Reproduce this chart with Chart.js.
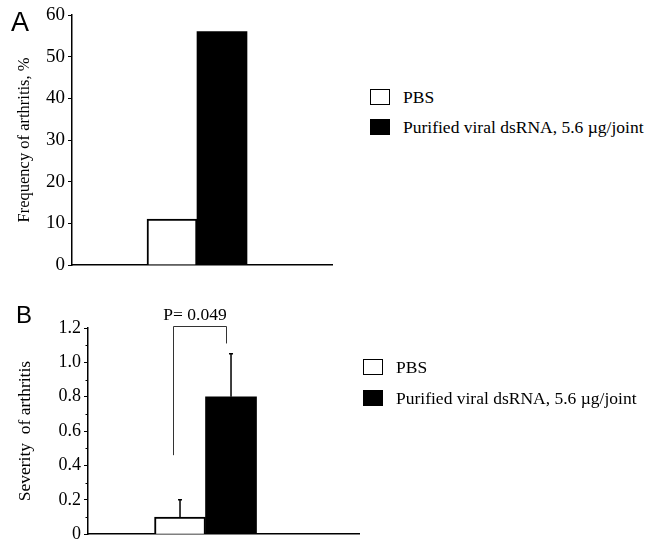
<!DOCTYPE html>
<html>
<head>
<meta charset="utf-8">
<script src="https://cdn.jsdelivr.net/npm/chart.js@4.4.1/dist/chart.umd.min.js"></script>
<style>
  body { margin: 0; background: #fff; width: 649px; height: 548px; position: relative; overflow: hidden; font-family: "Liberation Serif", "Times New Roman", serif; color: #000; }
  .letter { position: absolute; font-family: "Liberation Sans", Arial, sans-serif; line-height: 1; }
  .wrap { position: absolute; left: 0; }
  .legend { position: absolute; font-size: 17.5px; }
  .legend .row { position: absolute; left: 0; height: 20px; display: flex; align-items: center; white-space: nowrap; }
  .legend .swatch { box-sizing: border-box; width: 20px; height: 16px; border: 1.5px solid #000; }
  .legend .txt { position: absolute; left: 33px; line-height: 20px; }
</style>
</head>
<body>
<div class="wrap" style="top:0;"><canvas id="chartA" width="340" height="280"></canvas></div>
<div class="wrap" style="top:290px;"><canvas id="chartB" width="370" height="258"></canvas></div>

<div class="letter" style="left:11px; top:9px; font-size:27px;">A</div>
<div class="letter" style="left:16px; top:303px; font-size:24px;">B</div>

<div class="legend" id="legendA" style="left:370px; top:0;"></div>
<div class="legend" id="legendB" style="left:363px; top:0;"></div>

<script>
// groups (legend entries)
const groups = ['PBS', 'Purified viral dsRNA, 5.6 µg/joint'];

// panel A: frequency of arthritis, %
const frequency = [11, 56];
const frequencyTicks = [0, 10, 20, 30, 40, 50, 60];

// panel B: severity of arthritis, mean with upper error
const severity = [0.1, 0.8];
const severityErr = [0.1, 0.25];
const severityTicks = ['0', '0.2', '0.4', '0.6', '0.8', '1.0', '1.2'];
const pValueLabel = 'P= 0.049';

const fills = ['#ffffff', '#000000'];
const serif = '"Liberation Serif", "Times New Roman", serif';

Chart.defaults.font.family = serif;
Chart.defaults.color = '#000';

function makeDatasets(values, thickness) {
    return groups.map((g, i) => ({
        label: g,
        data: [{ x: 0, y: values[i] }],
        backgroundColor: fills[i],
        borderColor: '#000',
        borderWidth: i === 0 ? 2 : 0,
        barThickness: thickness
    }));
}

// short minor ticks on the severity axis
const minorTicks = {
    id: 'minorTicks',
    afterDraw(chart) {
        const y = chart.scales.y;
        const ctx = chart.ctx;
        ctx.save();
        ctx.strokeStyle = '#000';
        ctx.lineWidth = 1;
        y.ticks.forEach((t, i) => {
            if (Math.round(t.value * 10) % 2 === 1) {
                const py = Math.round(y.getPixelForTick(i)) + 0.5;
                ctx.beginPath();
                ctx.moveTo(y.right - 2.5, py);
                ctx.lineTo(y.right, py);
                ctx.stroke();
            }
        });
        ctx.restore();
    }
};

// error bars (upper only) and the significance bracket
const errorAndBracket = {
    id: 'errorAndBracket',
    afterDatasetsDraw(chart) {
        const ctx = chart.ctx;
        const y = chart.scales.y;
        const bars = groups.map((g, i) => chart.getDatasetMeta(i).data[0]);
        ctx.save();
        ctx.strokeStyle = '#000';
        ctx.lineWidth = 1.5;
        bars.forEach((b, i) => {
            const top = y.getPixelForValue(severity[i] + severityErr[i]);
            ctx.beginPath();
            ctx.moveTo(b.x, b.y);
            ctx.lineTo(b.x, top);
            ctx.moveTo(b.x - 2, top);
            ctx.lineTo(b.x + 2, top);
            ctx.stroke();
        });

        const lx = Math.round(bars[0].x - 7) + 0.5;
        const rx = Math.round(bars[1].x - 5) + 0.5;
        const yTop = Math.round(y.getPixelForValue(1.21)) + 0.5;
        ctx.strokeStyle = '#333';
        ctx.lineWidth = 1;
        ctx.beginPath();
        ctx.moveTo(lx, y.getPixelForValue(0.46));
        ctx.lineTo(lx, yTop);
        ctx.lineTo(rx, yTop);
        ctx.lineTo(rx, y.getPixelForValue(1.11));
        ctx.stroke();

        ctx.fillStyle = '#000';
        ctx.font = '17.5px ' + serif;
        ctx.textAlign = 'center';
        ctx.textBaseline = 'alphabetic';
        ctx.fillText(pValueLabel, (lx + rx) / 2 - 5, yTop - 7);
        ctx.restore();
    }
};

function baseOptions(opts) {
    return {
        responsive: false,
        animation: false,
        layout: { padding: { top: opts.padTop, right: opts.padRight, left: 0, bottom: 0 } },
        plugins: { legend: { display: false }, tooltip: { enabled: false } },
        scales: {
            x: {
                type: 'linear',
                min: -1,
                max: opts.xMax,
                offset: false,
                ticks: { display: false },
                grid: { display: false },
                border: { display: true, color: '#000', width: 1.5 },
                afterFit: (s) => { s.height = opts.xHeight; }
            },
            y: opts.y
        }
    };
}

new Chart(document.getElementById('chartA'), {
    type: 'bar',
    data: { datasets: makeDatasets(frequency, 50) },
    options: baseOptions({
        padTop: 15, padRight: 8, xMax: 1.08, xHeight: 15,
        y: {
            min: frequencyTicks[0],
            max: frequencyTicks[frequencyTicks.length - 1],
            ticks: { stepSize: 10, padding: 3, font: { family: serif, size: 19 } },
            grid: { drawOnChartArea: false, tickLength: 4, color: '#000', tickWidth: 1 },
            border: { display: true, color: '#000', width: 1.5 },
            title: {
                display: true, text: 'Frequency of arthritis, %',
                font: { family: serif, size: 16.5 }, padding: { top: 15, bottom: 0 }
            },
            afterFit: (s) => { s.width = 72; }
        }
    })
});

new Chart(document.getElementById('chartB'), {
    type: 'bar',
    data: { datasets: makeDatasets(severity, 51) },
    options: baseOptions({
        padTop: 38, padRight: 11, xMax: 1.306, xHeight: 7,
        y: {
            min: 0,
            max: 1.2,
            ticks: {
                stepSize: 0.1, autoSkip: false, padding: 3, font: { family: serif, size: 18 },
                callback: (v) => {
                    const k = Math.round(v * 10);
                    return k % 2 === 0 ? severityTicks[k / 2] : '';
                }
            },
            grid: {
                drawOnChartArea: false, tickLength: 4, tickWidth: 1,
                tickColor: (c) => (Math.round(c.tick.value * 10) % 2 === 0 ? '#000' : 'rgba(0,0,0,0)')
            },
            border: { display: true, color: '#000', width: 1.5 },
            title: {
                display: true, text: 'Severity  of arthritis',
                font: { family: serif, size: 17.5 }, padding: { top: 15, bottom: 0 }
            },
            afterFit: (s) => { s.width = 88; }
        }
    }),
    plugins: [minorTicks, errorAndBracket]
});

// HTML legends, one per panel
function buildLegend(el, centers) {
    groups.forEach((g, i) => {
        const row = document.createElement('div');
        row.className = 'row';
        row.style.top = (centers[i] - 10) + 'px';
        const sw = document.createElement('div');
        sw.className = 'swatch';
        sw.style.background = fills[i];
        const tx = document.createElement('span');
        tx.className = 'txt';
        tx.textContent = g;
        row.appendChild(sw);
        row.appendChild(tx);
        el.appendChild(row);
    });
}
buildLegend(document.getElementById('legendA'), [97, 127]);
buildLegend(document.getElementById('legendB'), [367, 398]);
</script>
</body>
</html>
